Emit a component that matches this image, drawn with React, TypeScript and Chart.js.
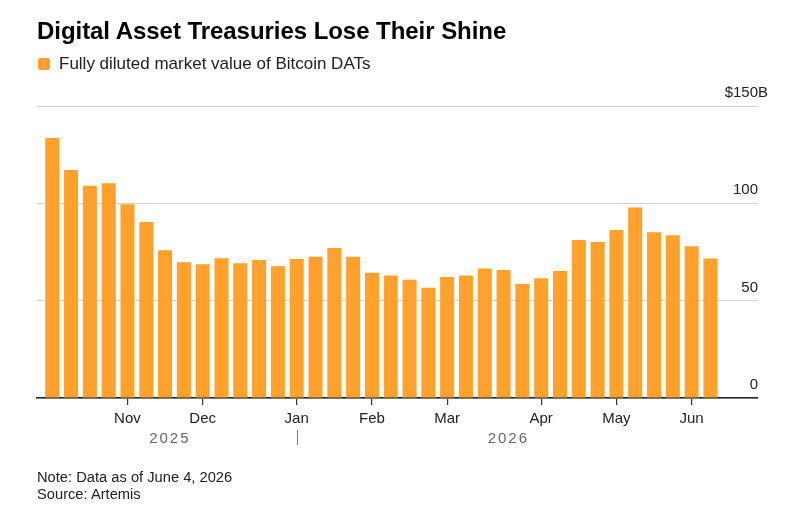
import React, { useEffect, useRef } from 'react';
import { Chart, registerables } from 'chart.js';

Chart.register(...registerables);

// Week-start dates for each bar (Mondays)
const WEEK_STARTS = [
  '2025-10-06', '2025-10-13', '2025-10-20', '2025-10-27',
  '2025-11-03', '2025-11-10', '2025-11-17', '2025-11-24',
  '2025-12-01', '2025-12-08', '2025-12-15', '2025-12-22', '2025-12-29',
  '2026-01-05', '2026-01-12', '2026-01-19', '2026-01-26',
  '2026-02-02', '2026-02-09', '2026-02-16', '2026-02-23',
  '2026-03-02', '2026-03-09', '2026-03-16', '2026-03-23', '2026-03-30',
  '2026-04-06', '2026-04-13', '2026-04-20', '2026-04-27',
  '2026-05-04', '2026-05-11', '2026-05-18', '2026-05-25',
  '2026-06-01', '2026-06-08',
];

// Fully diluted market value of Bitcoin DATs, $ billions
const DAT_VALUE_B = [
  133.5, 117.1, 109.0, 110.3,
  99.5, 90.4, 75.9, 69.7,
  68.7, 71.8, 69.2, 70.9, 67.7,
  71.4, 72.5, 77.1, 72.6,
  64.3, 62.9, 60.7, 56.6,
  62.1, 62.9, 66.5, 65.8, 58.6,
  61.5, 65.3, 81.2, 80.2,
  86.3, 97.8, 85.1, 83.6,
  77.9, 71.6,
];

const Y_TICKS = [0, 50, 100, 150];
const MONTH_NAMES = ['Jan', 'Feb', 'Mar', 'Apr', 'May', 'Jun', 'Jul', 'Aug', 'Sep', 'Oct', 'Nov', 'Dec'];

const BAR_COLOR = '#ffa12b';
const FONT = '"Liberation Sans", Arial, Helvetica, sans-serif';

// First bar of each new month gets a month tick
const monthTicks = WEEK_STARTS.map((d, i) => ({ index: i, month: Number(d.slice(5, 7)) - 1 }))
  .filter((t, i, arr) => i > 0 && arr[i - 1].month !== t.month);

// Index span covered by each calendar year
const yearSpans: { year: string; first: number; last: number }[] = [];
WEEK_STARTS.forEach((d, i) => {
  const y = d.slice(0, 4);
  const cur = yearSpans[yearSpans.length - 1];
  if (cur && cur.year === y) cur.last = i;
  else yearSpans.push({ year: y, first: i, last: i });
});

const axisTextPlugin = {
  id: 'axisText',
  afterDraw(chart: any) {
    const { ctx, chartArea, scales } = chart;
    const ys = scales.y;
    const xs = scales.x;
    ctx.save();

    // Value labels sitting above each gridline, right-aligned at the plot edge
    ctx.font = `15px ${FONT}`;
    ctx.fillStyle = '#222';
    ctx.textBaseline = 'alphabetic';
    const topTick = Y_TICKS[Y_TICKS.length - 1];
    Y_TICKS.forEach((v) => {
      const y = ys.getPixelForValue(v) - 9;
      ctx.textAlign = 'right';
      ctx.fillText(v === topTick ? `$${v}` : String(v), chartArea.right, y);
      if (v === topTick) {
        ctx.textAlign = 'left';
        ctx.fillText('B', chartArea.right, y);
      }
    });

    // Year labels and separators below the month ticks
    ctx.fillStyle = '#666';
    ctx.textAlign = 'center';
    (ctx as any).letterSpacing = '2px';
    yearSpans.forEach((s, k) => {
      const cx = xs.getPixelForValue((s.first + s.last) / 2 + 0.2) + 1;
      ctx.fillText(s.year, cx, 443);
      if (k > 0) {
        const sx = Math.round(xs.getPixelForValue(s.first)) + 0.5;
        ctx.strokeStyle = '#777';
        ctx.lineWidth = 1;
        ctx.beginPath();
        ctx.moveTo(sx, 430);
        ctx.lineTo(sx, 445);
        ctx.stroke();
      }
    });
    ctx.restore();
  },
};

export default function App() {
  const canvasRef = useRef<HTMLCanvasElement>(null);

  useEffect(() => {
    if (!canvasRef.current) return;
    Chart.defaults.font.family = FONT;
    const chart = new Chart(canvasRef.current, {
      type: 'bar',
      data: {
        datasets: [
          {
            label: 'Fully diluted market value of Bitcoin DATs',
            data: DAT_VALUE_B.map((v, i) => ({ x: i, y: v })),
            backgroundColor: BAR_COLOR,
            borderWidth: 0,
            barPercentage: 0.745,
            categoryPercentage: 1,
          },
        ],
      },
      options: {
        responsive: false,
        animation: false,
        devicePixelRatio: 1,
        layout: { padding: { left: 37, right: 42, top: 106, bottom: 0 } },
        plugins: {
          legend: { display: false },
          tooltip: { enabled: false },
        },
        scales: {
          x: {
            type: 'linear',
            min: -0.81,
            max: 37.53,
            offset: false,
            afterBuildTicks: (scale: any) => {
              scale.ticks = monthTicks.map((t) => ({ value: t.index }));
            },
            afterFit: (scale: any) => {
              scale.height = 121;
            },
            grid: {
              display: true,
              offset: false,
              drawOnChartArea: false,
              drawTicks: true,
              tickLength: 7,
              color: '#333',
              lineWidth: 1.2,
            },
            border: { display: true, color: '#222', width: 1.5 },
            ticks: {
              autoSkip: false,
              maxRotation: 0,
              padding: 5,
              color: '#222',
              font: { size: 15, family: FONT },
              callback: (value: any) => {
                const t = monthTicks.find((m) => m.index === value);
                return t ? MONTH_NAMES[t.month] : '';
              },
            },
          },
          y: {
            type: 'linear',
            min: 0,
            max: 150,
            afterBuildTicks: (scale: any) => {
              scale.ticks = Y_TICKS.map((v) => ({ value: v }));
            },
            afterFit: (scale: any) => {
              scale.width = 0;
            },
            grid: { color: '#d2d2d2', lineWidth: 1, drawTicks: false },
            border: { display: false },
            ticks: { display: false },
          },
        },
      },
      plugins: [axisTextPlugin],
    });
    return () => chart.destroy();
  }, []);

  const text: React.CSSProperties = { position: 'absolute', fontFamily: FONT, color: '#222', whiteSpace: 'nowrap', margin: 0 };

  return (
    <div style={{ position: 'absolute', left: 0, top: 0, width: 800, height: 519, background: '#fff', overflow: 'hidden' }}>
      <canvas ref={canvasRef} width={800} height={519} style={{ position: 'absolute', left: 0, top: 0 }} />
      <div style={{ ...text, left: 37, top: 19.4, fontSize: 24, lineHeight: '24px', fontWeight: 700, color: '#000', letterSpacing: '-0.05px' }}>
        Digital Asset Treasuries Lose Their Shine
      </div>
      <div style={{ position: 'absolute', left: 37.5, top: 57.5, width: 12, height: 12, borderRadius: 2, background: BAR_COLOR }} />
      <div style={{ ...text, left: 59, top: 55, fontSize: 17, lineHeight: '17px' }}>
        Fully diluted market value of Bitcoin DATs
      </div>
      <div style={{ ...text, left: 37, top: 470, fontSize: 14.7, lineHeight: '14.7px' }}>
        Note: Data as of June 4, 2026
      </div>
      <div style={{ ...text, left: 37, top: 487.2, fontSize: 14.7, lineHeight: '14.7px' }}>
        Source: Artemis
      </div>
    </div>
  );
}
